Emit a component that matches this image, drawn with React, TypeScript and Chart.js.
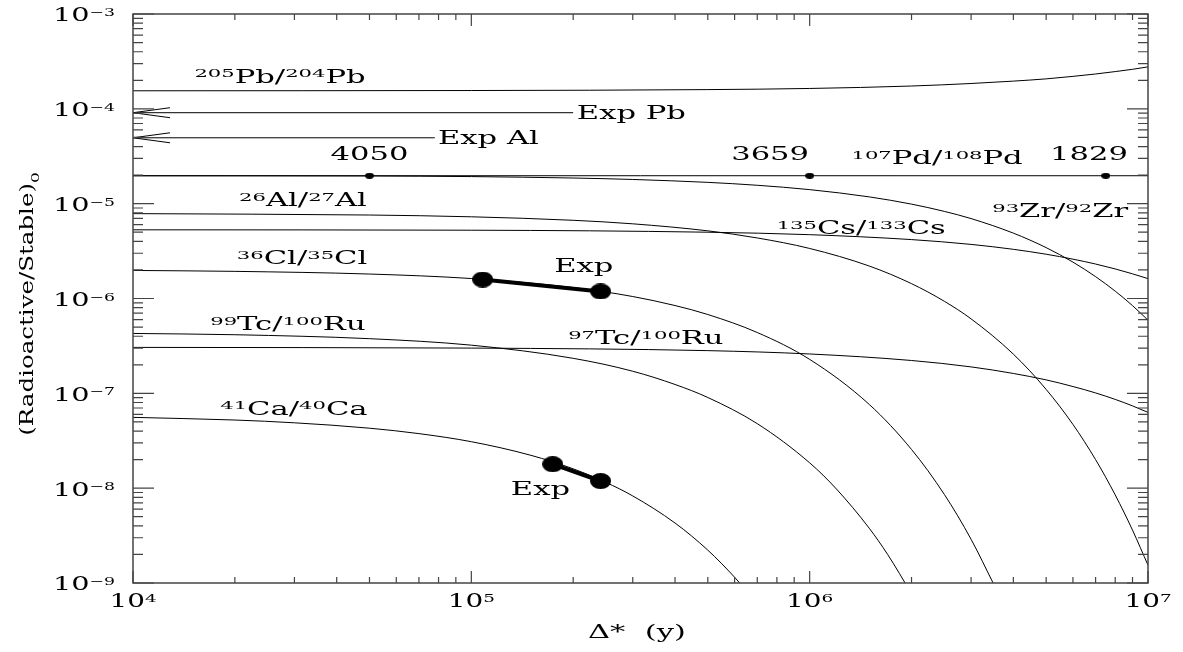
import React, { useEffect, useRef } from "react";
import { Chart, registerables } from "chart.js";
Chart.register(...registerables);

// ---------- axis ranges ----------
const X_MIN = 1e4;
const X_MAX = 1e7;
const Y_MIN = 1e-9;
const Y_MAX = 1e-3;
const X_TICK_LABELS = ["10^{4}", "10^{5}", "10^{6}", "10^{7}"];
const X_TICK_VALUES = [1e4, 1e5, 1e6, 1e7];
const Y_TICK_LABELS = ["10^{−3}", "10^{−4}", "10^{−5}", "10^{−6}", "10^{−7}", "10^{−8}", "10^{−9}"];
const Y_TICK_VALUES = [1e-3, 1e-4, 1e-5, 1e-6, 1e-7, 1e-8, 1e-9];

// ---------- series ----------
const pbX = [1e4, 1e5, 5e5, 1e6, 2e6, 3e6, 4e6, 5e6, 6e6, 7e6, 8e6, 9e6, 1e7];
const pbY = [1.55e-4, 1.56e-4, 1.595e-4, 1.64e-4, 1.74e-4, 1.85e-4, 1.96e-4, 2.07e-4, 2.2e-4, 2.33e-4, 2.47e-4, 2.61e-4, 2.77e-4];

const expPbX = [1e4, 2e5];
const expPbY = [9.1e-5, 9.1e-5];
const expAlX = [1e4, 7.8e4];
const expAlY = [4.95e-5, 4.95e-5];

const pdX = [1e4, 1e7];
const pdY = [1.97e-5, 1.97e-5];
const pdDotX = [5e4, 1e6, 7.5e6];
const pdDotY = [1.97e-5, 1.97e-5, 1.97e-5];

const zrX = [1e4, 5e4, 1e5, 2e5, 3e5, 5e5, 7e5, 1e6, 1.5e6, 2e6, 2.5e6, 3e6, 4e6, 5e6, 6e6, 7e6, 8e6, 9e6, 1e7];
const zrY = [1.97e-5, 1.96e-5, 1.93e-5, 1.864e-5, 1.8e-5, 1.677e-5, 1.563e-5, 1.406e-5, 1.179e-5, 9.89e-6, 8.29e-6, 6.96e-6, 4.89e-6, 3.44e-6, 2.42e-6, 1.7e-6, 1.196e-6, 8.41e-7, 5.91e-7];

const alX = [1e4, 5e4, 1e5, 2e5, 3e5, 5e5, 7e5, 1e6, 1.5e6, 2e6, 2.5e6, 3e6, 4e6, 5e6, 6e6, 7e6, 8e6, 9e6, 1e7];
const alY = [7.85e-6, 7.59e-6, 7.27e-6, 6.68e-6, 6.13e-6, 5.17e-6, 4.35e-6, 3.37e-6, 2.2e-6, 1.434e-6, 9.35e-7, 6.1e-7, 2.59e-7, 1.1e-7, 4.7e-8, 2.0e-8, 8.49e-9, 3.61e-9, 1.54e-9];

const csX = [1e4, 1e5, 5e5, 1e6, 2e6, 3e6, 4e6, 5e6, 6e6, 7e6, 8e6, 9e6, 1e7];
const csY = [5.3e-6, 5.25e-6, 5.0e-6, 4.71e-6, 4.18e-6, 3.72e-6, 3.3e-6, 2.93e-6, 2.6e-6, 2.31e-6, 2.05e-6, 1.82e-6, 1.62e-6];

const clX = [1e4, 2e4, 5e4, 1e5, 2e5, 3e5, 4e5, 5e5, 7e5, 1e6, 1.5e6, 2e6, 2.5e6, 3e6, 3.5e6];
const clY = [1.976e-6, 1.933e-6, 1.811e-6, 1.624e-6, 1.305e-6, 1.049e-6, 8.43e-7, 6.78e-7, 4.38e-7, 2.28e-7, 7.64e-8, 2.56e-8, 8.6e-9, 2.89e-9, 9.69e-10];
const clExpX = [1.08e5, 2.41e5];
const clExpY = [1.585e-6, 1.186e-6];

const tc99X = [1e4, 2e4, 5e4, 1e5, 2e5, 3e5, 4e5, 5e5, 7e5, 1e6, 1.2e6, 1.5e6, 1.7e6, 2e6];
const tc99Y = [4.28e-7, 4.15e-7, 3.77e-7, 3.22e-7, 2.34e-7, 1.71e-7, 1.24e-7, 9.04e-8, 4.79e-8, 1.85e-8, 9.79e-9, 3.78e-9, 2.0e-9, 7.73e-10];

const tc97X = [1e4, 1e5, 5e5, 1e6, 2e6, 3e6, 4e6, 5e6, 6e6, 7e6, 8e6, 9e6, 1e7];
const tc97Y = [3.05e-7, 3.0e-7, 2.82e-7, 2.6e-7, 2.22e-7, 1.9e-7, 1.62e-7, 1.386e-7, 1.18e-7, 1.01e-7, 8.63e-8, 7.37e-8, 6.3e-8];

const caX = [1e4, 2e4, 3e4, 5e4, 7e4, 1e5, 1.5e5, 2e5, 2.5e5, 3e5, 4e5, 5e5, 6e5, 6.5e5];
const caY = [5.58e-8, 5.23e-8, 4.89e-8, 4.29e-8, 3.76e-8, 3.09e-8, 2.22e-8, 1.6e-8, 1.15e-8, 8.28e-9, 4.29e-9, 2.22e-9, 1.15e-9, 8.28e-10];
const caExpX = [1.74e5, 2.41e5];
const caExpY = [1.79e-8, 1.19e-8];

// ---------- annotations ----------
const LABEL_TEXT = [
  "^{205}Pb/^{204}Pb", "Exp Pb", "Exp Al", "4050", "3659", "^{107}Pd/^{108}Pd", "1829",
  "^{93}Zr/^{92}Zr", "^{135}Cs/^{133}Cs", "^{26}Al/^{27}Al", "^{36}Cl/^{35}Cl", "Exp",
  "^{99}Tc/^{100}Ru", "^{97}Tc/^{100}Ru", "^{41}Ca/^{40}Ca", "Exp",
];
const LABEL_X = [2.72e4, 2.05e5, 7.97e4, 5e4, 7.64e5, 2.38e6, 6.69e6, 5.5e6, 1.42e6, 3.18e4, 3.16e4, 2.15e5, 2.87e4, 3.28e5, 2.99e4, 1.6e5];
const LABEL_Y = [2.2e-4, 9.1e-5, 4.95e-5, 3.36e-5, 3.36e-5, 3.05e-5, 3.36e-5, 8.44e-6, 5.59e-6, 1.1e-5, 2.7e-6, 2.22e-6, 5.46e-7, 3.88e-7, 6.95e-8, 1.0e-8];
const LABEL_ALIGN = ["center", "left", "left", "center", "center", "center", "center", "center", "center", "center", "center", "center", "center", "center", "center", "center"];

const X_TITLE = "Δ*  (y)";
const Y_TITLE = "(Radioactive/Stable)_{0}";

const FONT = '"DejaVu Serif", serif';
const FS = 18;
const STRETCH = 1.7;

type Part = { t: string; k: number };
function parseRich(text: string): Part[] {
  const parts: Part[] = [];
  let i = 0;
  const isMark = (j: number) => (text[j] === "^" || text[j] === "_") && text[j + 1] === "{";
  while (i < text.length) {
    if (isMark(i)) {
      const end = text.indexOf("}", i);
      parts.push({ t: text.slice(i + 2, end), k: text[i] === "^" ? 1 : -1 });
      i = end + 1;
    } else {
      let j = i;
      while (j < text.length && !isMark(j)) j++;
      parts.push({ t: text.slice(i, j), k: 0 });
      i = j;
    }
  }
  return parts;
}

function drawRich(ctx: CanvasRenderingContext2D, text: string, x: number, y: number, size: number, align: string, sx = STRETCH, supX = 1.15) {
  const parts = parseRich(text);
  const ss = size * 0.6;
  let w = 0;
  const widths = parts.map((p) => {
    ctx.font = `${p.k ? ss : size}px ${FONT}`;
    const m = ctx.measureText(p.t).width * sx * (p.k ? supX : 1);
    w += m;
    return m;
  });
  let cx = align === "center" ? x - w / 2 : align === "right" ? x - w : x;
  const base = y + size * 0.36;
  ctx.textAlign = "left";
  ctx.textBaseline = "alphabetic";
  parts.forEach((p, idx) => {
    ctx.font = `${p.k ? ss : size}px ${FONT}`;
    const dy = p.k === 1 ? -size * 0.3 : p.k === -1 ? size * 0.28 : 0;
    ctx.save();
    ctx.translate(cx, base + dy);
    ctx.scale(sx * (p.k ? supX : 1), 1);
    ctx.fillText(p.t, 0, 0);
    ctx.restore();
    cx += widths[idx];
  });
}

function ellipseImage(w: number, h: number): HTMLCanvasElement {
  const c = document.createElement("canvas");
  c.width = w;
  c.height = h;
  const g = c.getContext("2d")!;
  g.fillStyle = "#000";
  g.beginPath();
  g.ellipse(w / 2, h / 2, w / 2, h / 2, 0, 0, Math.PI * 2);
  g.fill();
  return c;
}

const pts = (xs: number[], ys: number[]) => xs.map((x, i) => ({ x, y: ys[i] }));

export default function App() {
  const ref = useRef<HTMLCanvasElement>(null);
  useEffect(() => {
    const big = ellipseImage(21, 16);
    const small = ellipseImage(9, 6);
    const thin = (xs: number[], ys: number[]) => ({
      data: pts(xs, ys),
      borderColor: "#000",
      borderWidth: 1,
      pointRadius: 0,
      cubicInterpolationMode: "monotone" as const,
      fill: false,
    });
    const overlay = {
      id: "overlay",
      beforeDraw(chart: any) {
        const ctx = chart.ctx;
        ctx.save();
        ctx.fillStyle = "#fff";
        ctx.fillRect(0, 0, chart.width, chart.height);
        ctx.restore();
      },
      afterDatasetsDraw(chart: any) {
        const ctx: CanvasRenderingContext2D = chart.ctx;
        const { left, right, top, bottom } = chart.chartArea;
        const xs = chart.scales.x;
        const ys = chart.scales.y;
        ctx.save();
        // arrows on Exp lines
        ctx.strokeStyle = "#000";
        ctx.lineWidth = 1;
        [expPbY[0], expAlY[0]].forEach((v) => {
          const py = ys.getPixelForValue(v);
          ctx.beginPath();
          ctx.moveTo(left + 37, py - 5);
          ctx.lineTo(left, py);
          ctx.lineTo(left + 37, py + 5);
          ctx.stroke();
        });
        // frame
        ctx.strokeStyle = "#444";
        ctx.lineWidth = 1.5;
        ctx.strokeRect(left, top, right - left, bottom - top);
        // ticks
        ctx.lineWidth = 1.2;
        ctx.beginPath();
        for (let e = 4; e <= 7; e++) {
          for (let m = 1; m <= 9; m++) {
            const v = m * Math.pow(10, e);
            if (v > X_MAX * 1.0001) break;
            const px = xs.getPixelForValue(v);
            const len = m === 1 ? 12 : 6;
            ctx.moveTo(px, bottom);
            ctx.lineTo(px, bottom - len);
            ctx.moveTo(px, top);
            ctx.lineTo(px, top + len);
          }
        }
        for (let e = -9; e <= -3; e++) {
          for (let m = 1; m <= 9; m++) {
            const v = m * Math.pow(10, e);
            if (v > Y_MAX * 1.0001) break;
            const py = ys.getPixelForValue(v);
            const len = m === 1 ? 21 : 10;
            ctx.moveTo(left, py);
            ctx.lineTo(left + len, py);
            ctx.moveTo(right, py);
            ctx.lineTo(right - len, py);
          }
        }
        ctx.stroke();
        // tick labels
        ctx.fillStyle = "#000";
        X_TICK_VALUES.forEach((v, i) => {
          drawRich(ctx, X_TICK_LABELS[i], xs.getPixelForValue(v), bottom + 18, FS, "center", 1.55, 1.1);
        });
        Y_TICK_VALUES.forEach((v, i) => {
          drawRich(ctx, Y_TICK_LABELS[i], left - 18, ys.getPixelForValue(v) + 1, FS, "right", 1.6, 1.0);
        });
        // annotations
        LABEL_TEXT.forEach((t, i) => {
          drawRich(ctx, t, xs.getPixelForValue(LABEL_X[i]), ys.getPixelForValue(LABEL_Y[i]), FS, LABEL_ALIGN[i]);
        });
        // axis titles
        drawRich(ctx, X_TITLE, 637, 632, FS, "center", 1.7);
        ctx.translate(27, 304);
        ctx.rotate(-Math.PI / 2);
        drawRich(ctx, Y_TITLE, 0, 0, FS, "center", 1.36);
        ctx.restore();
      },
    };
    const chart = new Chart(ref.current!, {
      type: "line",
      data: {
        datasets: [
          thin(pbX, pbY),
          thin(expPbX, expPbY),
          thin(expAlX, expAlY),
          thin(pdX, pdY),
          thin(zrX, zrY),
          thin(alX, alY),
          thin(csX, csY),
          thin(clX, clY),
          thin(tc99X, tc99Y),
          thin(tc97X, tc97Y),
          thin(caX, caY),
          {
            data: pts(pdDotX, pdDotY),
            showLine: false,
            pointStyle: small,
            pointRadius: 4,
            borderColor: "#000",
          },
          {
            data: pts(clExpX, clExpY),
            borderColor: "#000",
            borderWidth: 4,
            pointStyle: big,
            pointRadius: 10,
          },
          {
            data: pts(caExpX, caExpY),
            borderColor: "#000",
            borderWidth: 4,
            pointStyle: big,
            pointRadius: 10,
          },
        ] as any,
      },
      options: {
        animation: false,
        responsive: false,
        devicePixelRatio: 1,
        layout: { padding: { left: 133, right: 35, top: 13, bottom: 69 } },
        plugins: { legend: { display: false }, tooltip: { enabled: false }, title: { display: false } },
        events: [],
        scales: {
          x: { type: "logarithmic", min: X_MIN, max: X_MAX, display: false },
          y: { type: "logarithmic", min: Y_MIN, max: Y_MAX, display: false },
        },
      },
      plugins: [overlay],
    });
    return () => chart.destroy();
  }, []);
  return (
    <div style={{ position: "fixed", left: 0, top: 0, width: 1183, height: 652, background: "#fff" }}>
      <canvas ref={ref} width={1183} height={652} style={{ display: "block" }} />
    </div>
  );
}
